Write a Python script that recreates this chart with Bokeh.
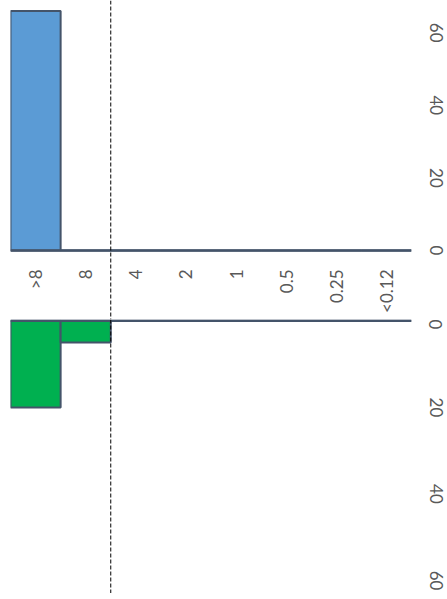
import math
from bokeh.plotting import figure
from bokeh.layouts import column
from bokeh.models import FactorRange, Range1d, Span, FixedTicker, LinearAxis, ColumnDataSource
from bokeh.core.properties import value
from bokeh.embed import file_html
from bokeh.resources import INLINE

categories = [">8", "8", "4", "2", "1", "0.5", "0.25", "<0.12"]
upper_values = [66, 0, 0, 0, 0, 0, 0, 0]
lower_values = [20, 5, 0, 0, 0, 0, 0, 0]
upper_ticks = [0, 20, 40, 60]
lower_ticks = [0, 20, 40, 60]
breakpoint_after = "8"

FONT = "Lato"
TXT = "#595959"
EDGE = "#44546A"
BLUE = "#5B9BD5"
GREEN = "#00B050"

W = 447
ML = 10
FRAME_W = 401
MR = W - ML - FRAME_W
bp_loc = categories.index(breakpoint_after) + 1


def base(height, yr):
    p = figure(width=W, height=height, x_range=FactorRange(*categories, range_padding=0, factor_padding=0),
               y_range=yr, output_backend="svg", toolbar_location=None,
               min_border_left=ML, min_border_right=MR, min_border_top=0, min_border_bottom=0,
               x_axis_location=None, y_axis_location=None)
    p.outline_line_color = None
    p.xgrid.visible = False
    p.ygrid.visible = False
    p.background_fill_color = None
    p.border_fill_color = None
    return p


def right_axis(p, ticks):
    ax = LinearAxis(ticker=FixedTicker(ticks=ticks))
    ax.axis_line_color = None
    ax.major_tick_line_color = None
    ax.minor_tick_line_color = None
    ax.major_tick_out = 0
    ax.major_tick_in = 0
    ax.major_label_orientation = "vertical"
    ax.major_label_standoff = 18
    ax.major_label_text_font = FONT
    ax.major_label_text_font_size = "17px"
    ax.major_label_text_color = TXT
    p.add_layout(ax, "right")


# upper panel (with category label band)
H1 = 319
s1 = 3.63
p1 = base(H1, Range1d(-69 / s1, 250 / s1))
src1 = ColumnDataSource(dict(x=categories, top=upper_values))
p1.vbar(x="x", top="top", bottom=0, width=1, source=src1, fill_color=BLUE,
        line_color=EDGE, line_width=2)
p1.add_layout(Span(location=0, dimension="width", line_color=EDGE, line_width=2.5))
p1.add_layout(Span(location=bp_loc, dimension="height", line_color="black", line_width=1, line_dash="4 2"))
lab = ColumnDataSource(dict(x=categories, y=[-19 / s1] * len(categories), t=categories))
p1.text(x="x", y="y", text="t", source=lab, angle=math.pi / 2, text_align="right",
        text_baseline="middle", text_font=value(FONT), text_font_size="17px", text_color=TXT)
right_axis(p1, upper_ticks)

# lower panel (downward)
H2 = 274
s2 = 4.33
p2 = base(H2, Range1d(H2 / s2 - 0.3, -0.3))
src2 = ColumnDataSource(dict(x=categories, top=lower_values))
p2.vbar(x="x", top="top", bottom=0, width=1, source=src2, fill_color=GREEN,
        line_color=EDGE, line_width=2)
p2.add_layout(Span(location=0, dimension="width", line_color=EDGE, line_width=2.5))
p2.add_layout(Span(location=bp_loc, dimension="height", line_color="black", line_width=1, line_dash="4 2"))
right_axis(p2, lower_ticks)

layout = column(p1, p2, spacing=0)
open("out.html", "w").write(file_html(layout, INLINE))
